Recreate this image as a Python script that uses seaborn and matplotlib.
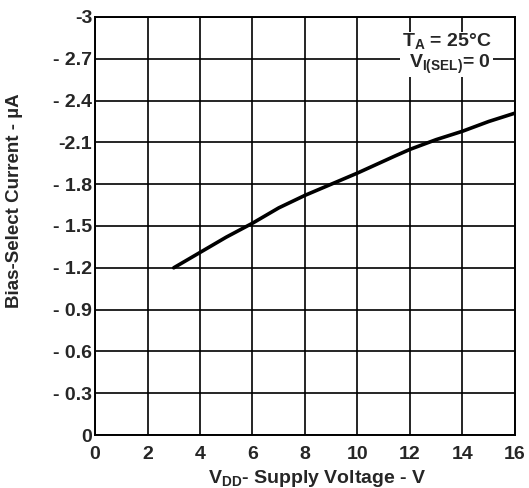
import matplotlib
matplotlib.use("Agg")
import matplotlib.pyplot as plt
import seaborn as sns
import pandas as pd

# Bias-select current vs. supply voltage (TA = 25 °C, VI(SEL) = 0)
supply_voltage = [3, 4, 5, 6, 7, 8, 9.5, 10, 11.4, 12, 13, 14, 15, 16]
bias_current = [-1.20, -1.31, -1.42, -1.52, -1.63, -1.72, -1.84, -1.88,
                -2.00, -2.05, -2.12, -2.18, -2.25, -2.31]

x_ticks = [0, 2, 4, 6, 8, 10, 12, 14, 16]
y_ticks = [0, -0.3, -0.6, -0.9, -1.2, -1.5, -1.8, -2.1, -2.4, -2.7, -3]
y_tick_labels = ["0", "- 0.3", "- 0.6", "- 0.9", "- 1.2", "- 1.5", "- 1.8",
                 "-2.1", "- 2.4", "- 2.7", "-3"]

sns.set_style("white")
plt.rcParams["font.family"] = ["Liberation Sans", "DejaVu Sans"]
plt.rcParams["font.weight"] = "bold"
plt.rcParams["mathtext.fontset"] = "custom"
plt.rcParams["mathtext.rm"] = "Liberation Sans:bold"
plt.rcParams["mathtext.bf"] = "Liberation Sans:bold"
plt.rcParams["mathtext.default"] = "bf"

df = pd.DataFrame({"V": supply_voltage, "I": bias_current})

fig = plt.figure(figsize=(5.29, 4.88), dpi=100)
ax = fig.add_axes([0.1796, 0.1086, 0.7939, 0.8566])

sns.lineplot(data=df, x="V", y="I", ax=ax, color="black", linewidth=2.6,
             zorder=3)

ax.set_xlim(0, 16)
ax.set_ylim(0, -3)
ax.set_xticks(x_ticks)
ax.set_xticklabels([str(t) for t in x_ticks], fontsize=14, fontweight="bold")
ax.set_yticks(y_ticks)
ax.set_yticklabels(y_tick_labels, fontsize=14, fontweight="bold")
ax.tick_params(axis="x", length=0, pad=8)
ax.tick_params(axis="y", length=0, pad=2)

ax.grid(True, color="black", linewidth=1.2)
ax.set_axisbelow(True)
for s in ax.spines.values():
    s.set_color("black")
    s.set_linewidth(1.4)

ax.set_xlabel(r"V$_{DD}$- Supply Voltage - V", fontsize=14, fontweight="bold")
ax.set_ylabel("Bias-Select Current - µA", fontsize=13.5, fontweight="bold")
ax.xaxis.set_label_coords(0.53, -0.078)
ax.yaxis.set_label_coords(-0.172, 0.56)

ax.text(15.1, -2.74, "T$_{A}$ = 25°C\nV$_{I(SEL)}$= 0", ha="right", va="center",
        fontsize=14, fontweight="bold", linespacing=1.1, zorder=4,
        bbox=dict(facecolor="white", edgecolor="none", pad=1.0))

fig.savefig("out.png", dpi=100)
